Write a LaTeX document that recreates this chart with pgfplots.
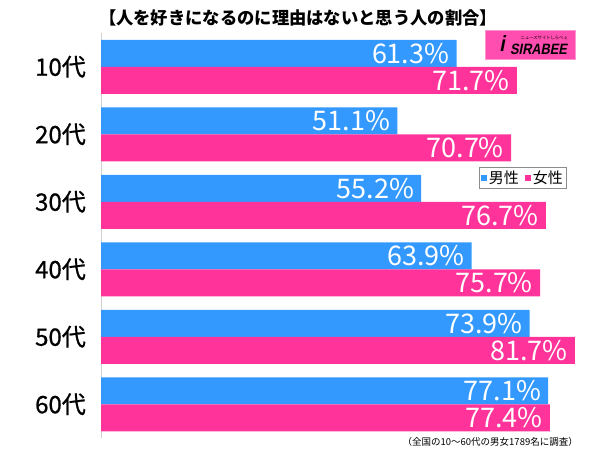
\documentclass[border=0pt]{standalone}
\usepackage{fontspec}
\setmainfont{Noto Sans CJK JP}
\newfontfamily\catfont[FakeBold=0.8]{Noto Sans CJK JP}
\newfontfamily\logofont[FakeSlant=0.2, FakeStretch=0.85]{Liberation Sans}
\usepackage{pgfplots}
\pgfplotsset{compat=1.18}
\definecolor{male}{HTML}{3399FF}
\definecolor{female}{HTML}{FF3399}
\definecolor{logo}{HTML}{FF4DB0}

\begin{document}
\begin{tikzpicture}[x=1pt,y=1pt]
  \path[use as bounding box] (0,0) rectangle (600,449);
  \begin{axis}[
      at={(101pt,11pt)}, anchor=south west,
      scale only axis,
      width=493pt, height=405pt,
      xbar,
      bar width=0.4,
      xmin=0, xmax=85,
      ymin=-0.5, ymax=5.5,
      y dir=reverse,
      ytick={0,...,5},
      yticklabels={10代,20代,30代,40代,50代,60代},
      xtick=\empty,
      axis x line=none,
      axis y line=left,
      y axis line style={-, draw=black!18},
      major tick length=0pt,
      yticklabel style={font=\catfont\fontsize{24}{24}\selectfont, inner sep=0pt, xshift=-15pt},
      point meta=x,
      nodes near coords={\pgfmathprintnumber[fixed,fixed zerofill,precision=1,assume math mode=true]{\pgfplotspointmeta}\%},
      nodes near coords style={anchor=east, text=white, font=\fontsize{27}{27}\selectfont, inner sep=0pt, xshift=-7pt},
      legend columns=2,
      legend style={at={(0.767,0.669)}, anchor=north west, draw=black!45,
        font=\fontsize{15}{15}\selectfont, inner sep=1.5pt,
        /tikz/every even column/.append style={column sep=4pt}},
      legend image code/.code={\fill[#1] (0pt,-3pt) rectangle (6pt,3pt);},
    ]
    % 男性
    \addplot[fill=male, draw=none, bar shift=-0.2]
    coordinates {
        (61.3,0) (51.1,1) (55.2,2) (63.9,3) (73.9,4) (77.1,5)
      };
    % 女性
    \addplot[fill=female, draw=none, bar shift=0.2]
    coordinates {
        (71.7,0) (70.7,1) (76.7,2) (75.7,3) (81.7,4) (77.4,5)
      };
    \legend{男性,女性}
  \end{axis}

  % title
  \node[font=\bfseries\fontsize{17.3}{17.3}\selectfont] at (298,431)
    {【人を好きになるのに理由はないと思う人の割合】};

  % logo
  \node[fill=logo, draw=logo!60, minimum width=90pt, minimum height=29pt,
    anchor=north west, inner sep=0pt] at (485,419) {};
  \node[font=\logofont\bfseries\fontsize{22}{22}\selectfont, inner sep=0pt] at (502,405) {i};
  \node[font=\logofont\bfseries\fontsize{15}{15}\selectfont, inner sep=0pt, anchor=west] at (510,400) {SIRABEE};
  \node[font=\fontsize{4.3}{4.3}\selectfont, inner sep=0pt, anchor=east] at (568,411) {ニュースサイトしらべぇ};

  % footnote
  \node[anchor=east, font=\fontsize{9.5}{9.5}\selectfont, inner sep=0pt] at (578,7)
    {（全国の10～60代の男女1789名に調査）};
\end{tikzpicture}
\end{document}
